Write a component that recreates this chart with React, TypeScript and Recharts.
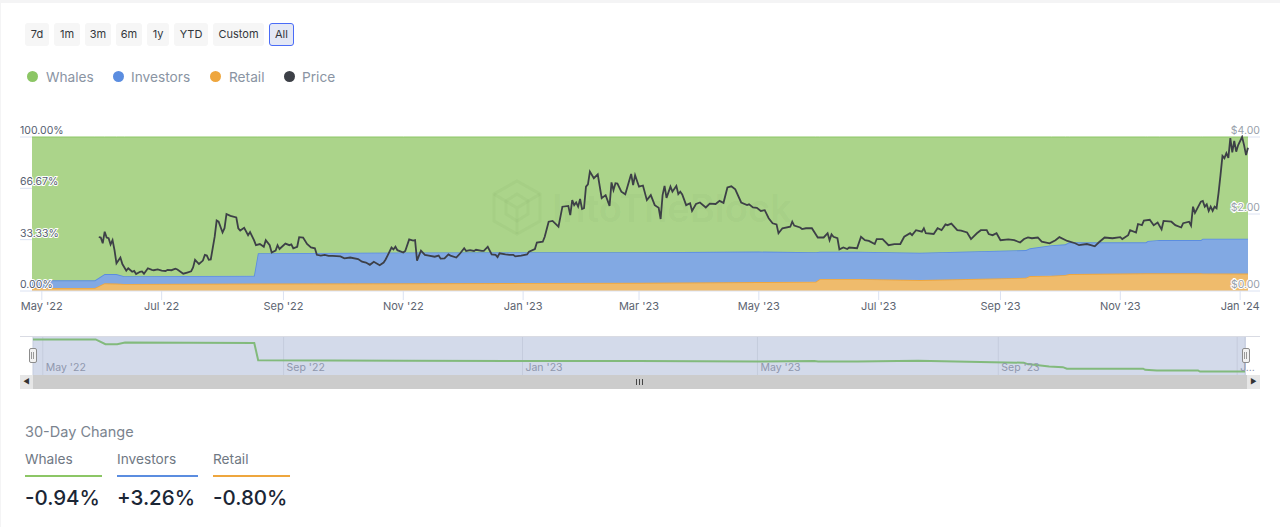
import { Area, CartesianGrid, ComposedChart, Line, LineChart, XAxis, YAxis } from 'recharts';

// days counted from 1 May 2022
const shareDays = [-5, 27, 32, 38, 42, 108, 110, 184, 245, 304, 365, 394, 396, 416, 447, 501, 503, 514, 521, 523, 562, 563, 569, 590, 591, 614];
const retail = [2, 2, 5, 4.8, 4.6, 4.8, 4.8, 5, 5.2, 5.3, 5.8, 6, 7.8, 7.8, 7.1, 8.6, 9.7, 9.9, 10.4, 11, 11.5, 11.5, 11.5, 11.5, 11.4, 11.3];
const investors = [4.9, 4.9, 6, 6.2, 5, 5.1, 19.7, 20, 20, 19.9, 19.8, 19.2, 17.7, 17.7, 17.8, 18, 18, 19.8, 19.9, 20.6, 20.1, 21, 21.6, 21.6, 22.6, 22.7];
const whales = [93.1, 93.1, 89, 89, 90.4, 90.1, 75.5, 75, 74.8, 74.8, 74.4, 74.8, 74.5, 74.5, 75.1, 73.4, 72.3, 70.3, 69.7, 68.4, 68.4, 67.5, 66.9, 66.9, 66, 66];

const priceDays = [
  29, 30, 31, 32, 33, 34, 35, 36, 37, 38, 40, 41, 43, 44, 46, 47, 48, 50, 51, 52, 54, 56, 57, 59, 61, 63, 64, 66, 68, 69,
  72, 74, 76, 77, 78, 80, 82, 83, 84, 85, 86, 88, 89, 90, 92, 93, 94, 96, 99, 100, 101, 103, 105, 106, 108, 109, 111, 113, 114, 116,
  117, 119, 120, 121, 124, 126, 127, 128, 130, 131, 133, 135, 137, 139, 140, 142, 144, 146, 148, 152, 154, 157, 161, 163, 165, 167, 169, 172, 174, 175,
  176, 178, 179, 180, 181, 184, 185, 187, 189, 190, 191, 193, 195, 197, 200, 202, 203, 205, 207, 208, 211, 213, 215, 216, 218, 220, 221, 224, 225, 227,
  229, 231, 232, 233, 236, 238, 240, 241, 244, 247, 248, 251, 252, 255, 256, 258, 260, 263, 265, 268, 269, 270, 271, 272, 273, 274, 275, 276, 277, 278,
  279, 281, 283, 285, 287, 289, 290, 291, 292, 293, 295, 297, 300, 301, 302, 304, 306, 308, 310, 312, 314, 315, 316, 317, 318, 320, 321, 323, 324, 325,
  326, 328, 330, 331, 333, 335, 338, 340, 343, 345, 347, 349, 351, 353, 356, 359, 360, 362, 364, 366, 368, 370, 372, 374, 375, 377, 381, 382, 383, 386,
  387, 389, 392, 395, 398, 400, 401, 402, 403, 405, 406, 408, 410, 411, 415, 417, 419, 421, 424, 425, 428, 431, 434, 437, 439, 442, 443, 445, 448, 449,
  450, 454, 456, 458, 460, 461, 463, 466, 468, 471, 473, 476, 478, 481, 482, 484, 486, 488, 492, 495, 498, 500, 502, 504, 507, 509, 513, 516, 518, 522,
  526, 528, 532, 534, 536, 538, 541, 545, 549, 550, 553, 554, 557, 558, 560, 561, 564, 566, 568, 570, 571, 575, 577, 580, 581, 584, 585, 586, 587, 590,
  591, 592, 593, 594, 595, 596, 597, 598, 599, 600, 601, 602, 603, 604, 605, 606, 607, 608, 609, 611, 612, 613, 614,
];
const priceValues = [
  1.4, 1.39, 1.24, 1.54, 1.39, 1.37, 1.21, 1.32, 1.06, 0.72, 0.87, 0.7, 0.53, 0.59, 0.5, 0.52, 0.44, 0.5, 0.51, 0.45, 0.59, 0.55, 0.54, 0.56, 0.53, 0.52, 0.55, 0.54, 0.58, 0.56,
  0.45, 0.48, 0.51, 0.61, 0.81, 0.7, 0.79, 0.94, 0.92, 0.81, 0.82, 1.41, 1.83, 1.8, 1.52, 1.63, 2.0, 1.95, 1.91, 1.63, 1.57, 1.64, 1.45, 1.53, 1.32, 1.19, 1.22, 1.15, 1.32, 1.19,
  1.0, 1.05, 1.19, 1.09, 1.23, 1.19, 1.21, 1.11, 1.15, 1.4, 1.39, 1.22, 1.13, 1.11, 0.94, 0.92, 0.94, 0.91, 0.91, 0.9, 0.85, 0.87, 0.83, 0.76, 0.74, 0.68, 0.76, 0.67, 0.74, 0.82,
  0.92, 1.13, 1.08, 1.15, 1.06, 1.0, 1.04, 1.34, 1.31, 1.32, 0.79, 1.05, 0.94, 0.92, 0.89, 0.92, 0.84, 0.85, 0.95, 0.92, 0.87, 0.98, 1.11, 1.04, 1.06, 1.04, 1.07, 1.04, 1.04, 1.15,
  0.95, 0.94, 0.88, 0.98, 0.95, 0.94, 0.94, 0.9, 0.92, 0.95, 1.02, 1.09, 1.26, 1.28, 1.41, 1.8, 1.82, 1.67, 2.19, 2.21, 1.97, 2.36, 2.23, 2.3, 2.19, 2.39, 2.13, 2.15, 2.71, 2.77,
  3.1, 2.93, 3.03, 2.41, 2.49, 2.21, 2.82, 2.62, 2.8, 2.79, 2.58, 2.51, 3.04, 2.75, 3.01, 2.71, 2.74, 2.36, 2.49, 2.23, 2.16, 1.87, 2.49, 2.73, 2.42, 2.71, 2.58, 2.73, 2.52, 2.58,
  2.51, 2.23, 2.28, 2.08, 2.26, 2.3, 2.17, 2.27, 2.26, 2.34, 2.29, 2.69, 2.72, 2.64, 2.3, 2.23, 2.25, 2.17, 2.16, 2.08, 2.1, 1.89, 1.76, 1.73, 1.5, 1.63, 1.67, 1.8, 1.7, 1.65,
  1.61, 1.63, 1.63, 1.39, 1.39, 1.5, 1.32, 1.47, 1.41, 1.37, 1.08, 1.13, 1.09, 1.13, 1.11, 1.41, 1.32, 1.3, 1.22, 1.35, 1.35, 1.19, 1.22, 1.22, 1.41, 1.5, 1.45, 1.58, 1.54, 1.63,
  1.5, 1.48, 1.63, 1.58, 1.73, 1.71, 1.75, 1.58, 1.57, 1.52, 1.35, 1.5, 1.58, 1.58, 1.48, 1.45, 1.5, 1.32, 1.34, 1.32, 1.26, 1.35, 1.39, 1.37, 1.39, 1.28, 1.24, 1.32, 1.4, 1.3,
  1.24, 1.19, 1.22, 1.19, 1.16, 1.26, 1.39, 1.37, 1.4, 1.35, 1.45, 1.58, 1.52, 1.74, 1.71, 1.83, 1.85, 1.71, 1.78, 1.6, 1.82, 1.8, 1.71, 1.65, 1.76, 1.8, 1.7, 2.19, 2.03, 2.32,
  2.34, 2.19, 2.25, 2.08, 2.19, 2.08, 2.19, 2.15, 2.54, 3.01, 3.51, 3.45, 3.58, 3.46, 3.97, 3.6, 3.9, 3.62, 3.79, 4.0, 3.79, 3.53, 3.72,
];

const xTicks = [0, 61, 123, 184, 245, 304, 365, 426, 488, 549, 610];
const xLabels = ["May '22", "Jul '22", "Sep '22", "Nov '22", "Jan '23", "Mar '23", "May '23", "Jul '23", "Sep '23", "Nov '23", "Jan '24"];
const shareTicks = [0, 33.33, 66.67, 100];
const priceTicks = [0, 2, 4];
const navTicks = [0, 123, 245, 365, 488, 610];
const navLabels = ["May '22", "Sep '22", "Jan '23", "May '23", "Sep '23", 'J...'];

const ranges = ['7d', '1m', '3m', '6m', '1y', 'YTD', 'Custom', 'All'];
const legendNames = ['Whales', 'Investors', 'Retail', 'Price'];
const changeNames = ['Whales', 'Investors', 'Retail'];
const changeValues = ['-0.94%', '+3.26%', '-0.80%'];

const shareRows = shareDays.map((day, i) => ({ day, retail: retail[i], investors: investors[i], whales: whales[i] }));
const priceRows = priceDays.map((day, i) => ({ day, price: priceValues[i] }));

const FONT = 'Inter, sans-serif';
const GREEN = '#8cc665';
const BLUE = '#5b8de0';
const ORANGE = '#eea63e';
const DARK = '#3d4047';
const AXIS = '#dbe2f2';

const buttonBoxes = [[25, 24], [54, 26], [85, 26], [116, 26], [147, 22], [174, 34], [213, 51], [269, 25]];
const legendBoxes = [[27, 46, '#8cc665'], [113, 131, '#5b8de0'], [210, 229, '#eea63e'], [284, 302, '#3d4047']] as const;
const changeBoxes = [[25, 77, GREEN], [117, 81, BLUE], [213, 77, ORANGE]] as const;

function XTick({ x, payload }: any) {
  const label = xLabels[xTicks.indexOf(payload.value)];
  return (
    <text x={x} y={310} textAnchor="middle" fontFamily={FONT} fontSize={11} fill="#5c6470">
      {label}
    </text>
  );
}

function LeftTick({ y, payload }: any) {
  return (
    <g>
      <line x1={20} x2={32} y1={y} y2={y} stroke={AXIS} />
      <text x={20} y={y - 3} fontFamily={FONT} fontSize={10.5} fill="#545d70" stroke="#fff" strokeWidth={2} paintOrder="stroke">
        {payload.value.toFixed(2)}%
      </text>
    </g>
  );
}

function RightTick({ y, payload }: any) {
  return (
    <g>
      <line x1={1248} x2={1260} y1={y} y2={y} stroke={AXIS} />
      <text x={1260} y={y - 3} textAnchor="end" fontFamily={FONT} fontSize={10.5} fill="#989fab" stroke="#fff" strokeWidth={2} paintOrder="stroke">
        ${payload.value.toFixed(2)}
      </text>
    </g>
  );
}

function NavTick({ x, payload }: any) {
  return (
    <text x={x + 3} y={35} fontFamily={FONT} fontSize={10.5} fill="#8f97ad">
      {navLabels[navTicks.indexOf(payload.value)]}
    </text>
  );
}

function Handle({ left }: { left: number }) {
  return (
    <div style={{ position: 'absolute', left, top: 348, width: 6, height: 13, background: '#f2f2f2', border: '1px solid #8c8c8c', borderRadius: 2 }}>
      <div style={{ position: 'absolute', left: 1, top: 3, width: 1, height: 7, background: '#999' }} />
      <div style={{ position: 'absolute', left: 3, top: 3, width: 1, height: 7, background: '#999' }} />
    </div>
  );
}

export default function App() {
  return (
    <div style={{ position: 'absolute', left: 0, top: 0, width: 1280, height: 527, background: '#fff', overflow: 'hidden', fontFamily: FONT }}>
      <div style={{ position: 'absolute', left: 0, top: 0, width: 1280, height: 3, background: '#f4f4f5' }} />
      <div style={{ position: 'absolute', left: 0, top: 0, width: 1, height: 527, background: '#f4f4f5' }} />

      {ranges.map((r, i) => {
        const active = r === 'All';
        return (
          <div
            key={r}
            style={{
              position: 'absolute',
              left: buttonBoxes[i][0],
              top: 23,
              width: buttonBoxes[i][1],
              height: 23,
              boxSizing: 'border-box',
              background: active ? '#e4e8f5' : '#f6f6f6',
              border: active ? '1.5px solid #4a6cf7' : 'none',
              borderRadius: 3,
              color: '#33373d',
              fontSize: 11,
              lineHeight: active ? '20px' : '23px',
              textAlign: 'center',
            }}
          >
            {r}
          </div>
        );
      })}

      {legendNames.map((name, i) => (
        <div key={name}>
          <div style={{ position: 'absolute', left: legendBoxes[i][0], top: 71, width: 11, height: 11, borderRadius: '50%', background: legendBoxes[i][2] }} />
          <div style={{ position: 'absolute', left: legendBoxes[i][1], top: 68, lineHeight: '18px', fontSize: 13.7, color: '#8a94a3' }}>{name}</div>
        </div>
      ))}

      <div style={{ position: 'absolute', left: 0, top: 0 }}>
        <ComposedChart width={1280} height={320} data={shareRows} margin={{ top: 137, left: 31, right: 31, bottom: 0 }}>
          <XAxis
            dataKey="day"
            type="number"
            domain={[-5, 614]}
            ticks={xTicks}
            height={29}
            interval={0}
            tick={<XTick />}
            tickSize={9}
            tickLine={{ stroke: AXIS }}
            axisLine={{ stroke: AXIS }}
          />
          <YAxis yAxisId="share" domain={[0, 100]} ticks={shareTicks} width={1} interval={0} axisLine={false} tickLine={false} tick={<LeftTick />} />
          <YAxis yAxisId="price" orientation="right" domain={[0, 4]} ticks={priceTicks} width={1} interval={0} axisLine={false} tickLine={false} tick={<RightTick />} />
          <Area yAxisId="share" type="linear" dataKey="retail" stackId="holders" stroke={ORANGE} strokeWidth={1.7} fill="#efbb6c" fillOpacity={1} isAnimationActive={false} />
          <Area yAxisId="share" type="linear" dataKey="investors" stackId="holders" stroke={BLUE} strokeWidth={1.7} fill="#82a9e3" fillOpacity={1} isAnimationActive={false} />
          <Area yAxisId="share" type="linear" dataKey="whales" stackId="holders" stroke={GREEN} strokeWidth={1} fill="#abd48a" fillOpacity={1} isAnimationActive={false} />
          <Line yAxisId="price" data={priceRows} type="linear" dataKey="price" stroke={DARK} strokeWidth={1.8} dot={false} isAnimationActive={false} />
        </ComposedChart>
      </div>

      {/* watermark */}
      <svg style={{ position: 'absolute', left: 490, top: 178, pointerEvents: 'none' }} width={310} height={62}>
        <g fill="none" stroke="rgba(70,110,50,0.05)" strokeWidth={3}>
          <polygon points="27,3 50,16 50,43 27,56 4,43 4,16" />
          <polygon points="27,16 38,23 38,36 27,43 16,36 16,23" />
          <path d="M4 16L27 30L50 16M27 30V56" />
        </g>
        <text x={62} y={44} fontFamily={FONT} fontSize={38} fontWeight={600} fill="rgba(70,110,50,0.05)">
          IntoTheBlock
        </text>
      </svg>

      <div style={{ position: 'absolute', left: 20, top: 336, width: 1240, height: 1, background: '#d9dbe3' }} />
      <div style={{ position: 'absolute', left: 33, top: 337, width: 1213, height: 38, background: '#d3daea' }} />
      <div style={{ position: 'absolute', left: 0, top: 336 }}>
        <LineChart width={1280} height={40} data={shareRows} margin={{ top: 1, left: 33, right: 35, bottom: 0 }}>
          <CartesianGrid horizontal={false} stroke="#c5ccdd" />
          <XAxis dataKey="day" type="number" domain={[-5, 614]} ticks={navTicks} height={1} interval={0} axisLine={false} tickLine={false} tick={<NavTick />} />
          <YAxis hide domain={[63.1, 95.1]} />
          <Line type="linear" dataKey="whales" stroke="#82ba7c" strokeWidth={2} dot={false} isAnimationActive={false} />
        </LineChart>
      </div>
      <Handle left={29} />
      <Handle left={1242} />

      <div style={{ position: 'absolute', left: 20, top: 375, width: 1240, height: 14, background: '#cccccc' }} />
      <div style={{ position: 'absolute', left: 20, top: 375, width: 13, height: 14, background: '#e6e6e6', color: '#333', fontSize: 7, lineHeight: '14px', textAlign: 'center' }}>◀</div>
      <div style={{ position: 'absolute', left: 1247, top: 375, width: 13, height: 14, background: '#e6e6e6', color: '#333', fontSize: 7, lineHeight: '14px', textAlign: 'center' }}>▶</div>
      <div style={{ position: 'absolute', left: 636, top: 379, width: 1, height: 6, background: '#444', boxShadow: '3px 0 0 #444, 6px 0 0 #444' }} />

      <div style={{ position: 'absolute', left: 25, top: 423, fontSize: 14.5, lineHeight: '18px', color: '#7b848f' }}>30-Day Change</div>
      {changeNames.map((name, i) => (
        <div key={name}>
          <div style={{ position: 'absolute', left: changeBoxes[i][0], top: 450, fontSize: 13.7, lineHeight: '18px', color: '#6f7883' }}>{name}</div>
          <div style={{ position: 'absolute', left: changeBoxes[i][0], top: 475, width: changeBoxes[i][1], height: 2, background: changeBoxes[i][2] }} />
          <div style={{ position: 'absolute', left: changeBoxes[i][0], top: 484, fontSize: 20.5, lineHeight: '28px', fontWeight: 500, color: '#1b2635' }}>{changeValues[i]}</div>
        </div>
      ))}
    </div>
  );
}
